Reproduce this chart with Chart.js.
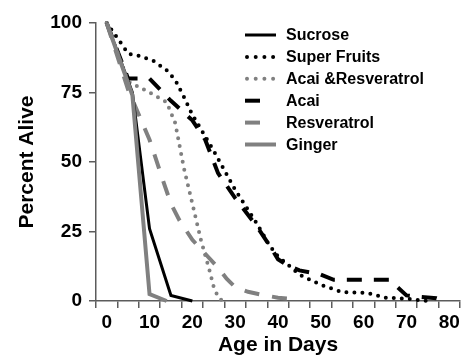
<!DOCTYPE html>
<html><head><meta charset="utf-8">
<script src="https://cdn.jsdelivr.net/npm/chart.js@4"></script>
<style>html,body{margin:0;padding:0;background:#fff}</style>
</head><body>
<canvas id="c" width="463" height="358"></canvas>
<script>
// ---- data ----
const xTickLabels = [0, 10, 20, 30, 40, 50, 60, 70, 80];
const yTickLabels = [0, 25, 50, 75, 100];
const seriesNames = ['Sucrose', 'Super Fruits', 'Acai &Resveratrol', 'Acai', 'Resveratrol', 'Ginger'];

const sucroseDays  = [0, 6, 10, 15, 20];
const sucroseAlive = [100, 75, 26, 2, 0];

const superFruitsDays  = [0, 3, 5, 8, 11, 14, 16, 18, 20, 25, 30, 35, 38, 40, 42, 45, 50, 55, 60, 62, 65, 70, 75];
const superFruitsAlive = [100, 93.5, 89, 88, 86.3, 83, 79.5, 73.5, 67, 54, 40, 28, 20, 16, 13.5, 9.5, 5.8, 3.2, 3, 2.5, 1.2, 0.8, 0];

const acaiResDays  = [0, 5, 10, 14, 16, 18, 20, 22, 24, 25, 26, 27];
const acaiResAlive = [100, 79, 75, 71.5, 64, 48, 35, 22, 11, 5, 1.5, 0];

const acaiDays  = [0, 5, 10, 15, 20, 23, 26, 30, 35, 38, 40, 42, 45, 50, 53, 66, 70, 73, 77, 79];
const acaiAlive = [100, 80, 80, 72, 65, 58, 46, 37, 27, 20, 15, 13, 11, 9.5, 7.6, 7.6, 2, 1.5, 1, 0];

const resveratrolDays  = [0, 5, 10, 13, 15, 17, 20, 23, 26, 28, 30, 33, 37, 40, 43, 45];
const resveratrolAlive = [100, 76, 58, 44, 35, 29, 22, 17, 12, 8, 5, 3.3, 2, 1.2, 0.8, 0];

const gingerDays  = [0, 6, 10, 14];
const gingerAlive = [100, 74, 2.5, 0];

// ---- styles ----
const BLACK = '#000000';
const GRAY = '#808080';
const AXIS = '#5c5c5c';
const FONT = '"Liberation Sans", Arial, Helvetica, sans-serif';

function pts(days, alive) { return days.map((d, i) => ({ x: d, y: alive[i] })); }

const common = { pointRadius: 0, tension: 0, fill: false, clip: 8, xAxisID: 'x', yAxisID: 'y' };

const datasets = [
  Object.assign({ label: seriesNames[0], data: pts(sucroseDays, sucroseAlive), borderColor: BLACK, borderWidth: 3, borderDash: [], order: 1 }, common),
  Object.assign({ label: seriesNames[1], data: pts(superFruitsDays, superFruitsAlive), borderColor: BLACK, borderWidth: 4, borderDash: [0, 8], borderCapStyle: 'round', order: 4 }, common),
  Object.assign({ label: seriesNames[2], data: pts(acaiResDays, acaiResAlive), borderColor: GRAY, borderWidth: 4, borderDash: [0, 8], borderCapStyle: 'round', order: 3 }, common),
  Object.assign({ label: seriesNames[3], data: pts(acaiDays, acaiAlive), borderColor: BLACK, borderWidth: 4, borderDash: [15, 12], order: 5 }, common),
  Object.assign({ label: seriesNames[4], data: pts(resveratrolDays, resveratrolAlive), borderColor: GRAY, borderWidth: 4, borderDash: [15, 13], order: 2 }, common),
  Object.assign({ label: seriesNames[5], data: pts(gingerDays, gingerAlive), borderColor: GRAY, borderWidth: 4, borderDash: [], order: 0 }, common)
];

const lineLegend = {
  id: 'lineLegend',
  afterDraw(chart) {
    const ctx = chart.ctx;
    chart.data.datasets.forEach((ds, i) => {
      const y = 35 + i * 21.9;
      const dash = ds.borderDash || [];
      const dotted = dash.length && dash[0] === 0;
      const dashed = dash.length && dash[0] > 0;
      ctx.save();
      ctx.strokeStyle = ds.borderColor;
      ctx.lineWidth = ds.borderWidth;
      ctx.lineCap = ds.borderCapStyle || 'butt';
      ctx.setLineDash(dotted ? [0, 8.7] : []);
      ctx.beginPath();
      if (dashed) { ctx.moveTo(245, y); ctx.lineTo(260, y); }
      else if (dotted) { ctx.moveTo(247, y); ctx.lineTo(273.2, y); }
      else { ctx.moveTo(245, y); ctx.lineTo(276, y); }
      ctx.stroke();
      ctx.restore();
      ctx.save();
      ctx.fillStyle = '#000';
      ctx.font = 'bold 16px ' + FONT;
      ctx.textBaseline = 'middle';
      ctx.textAlign = 'left';
      ctx.fillText(ds.label, 286, y + 1);
      ctx.restore();
    });
  }
};

new Chart(document.getElementById('c'), {
  type: 'line',
  data: { datasets },
  plugins: [lineLegend],
  options: {
    responsive: false,
    animation: false,
    events: [],
    layout: { padding: { top: 23, right: 3, left: 0, bottom: 0 } },
    plugins: { legend: { display: false }, tooltip: { enabled: false } },
    scales: {
      x: {
        type: 'linear', position: 'bottom', weight: 1, min: -2.5, max: 82.5,
        afterBuildTicks: s => { s.ticks = xTickLabels.map(v => ({ value: v })); },
        afterFit: s => { s.height = 50; },
        grid: { display: false, drawTicks: false },
        border: { display: false },
        ticks: { padding: 3, color: '#000', autoSkip: false, maxRotation: 0, font: { family: FONT, size: 19, weight: 'bold' } },
        title: { display: true, text: 'Age in Days', color: '#000', font: { family: FONT, size: 21, weight: 'bold' }, padding: { top: 0, bottom: 0 } }
      },
      x2: {
        type: 'linear', position: 'bottom', weight: 0, min: -2.5, max: 82.5,
        afterFit: s => { s.height = 7; },
        ticks: { display: false, stepSize: 5 },
        grid: { display: true, drawOnChartArea: false, drawTicks: true, tickLength: 7, color: AXIS, lineWidth: 1.5 },
        border: { display: true, color: AXIS, width: 1.5 }
      },
      y: {
        type: 'linear', position: 'left', min: 0, max: 100,
        afterBuildTicks: s => { s.ticks = yTickLabels.map(v => ({ value: v })); },
        afterFit: s => { s.width = 96; },
        grid: { display: true, drawOnChartArea: false, drawTicks: true, tickLength: 7, color: AXIS, lineWidth: 1.5 },
        border: { display: true, color: AXIS, width: 1.5 },
        ticks: { padding: 7, color: '#000', font: { family: FONT, size: 19, weight: 'bold' } },
        title: { display: true, text: 'Percent Alive', color: '#000', font: { family: FONT, size: 21, weight: 'bold' }, padding: { top: 15, bottom: 0 } }
      }
    }
  }
});
</script>
</body></html>
